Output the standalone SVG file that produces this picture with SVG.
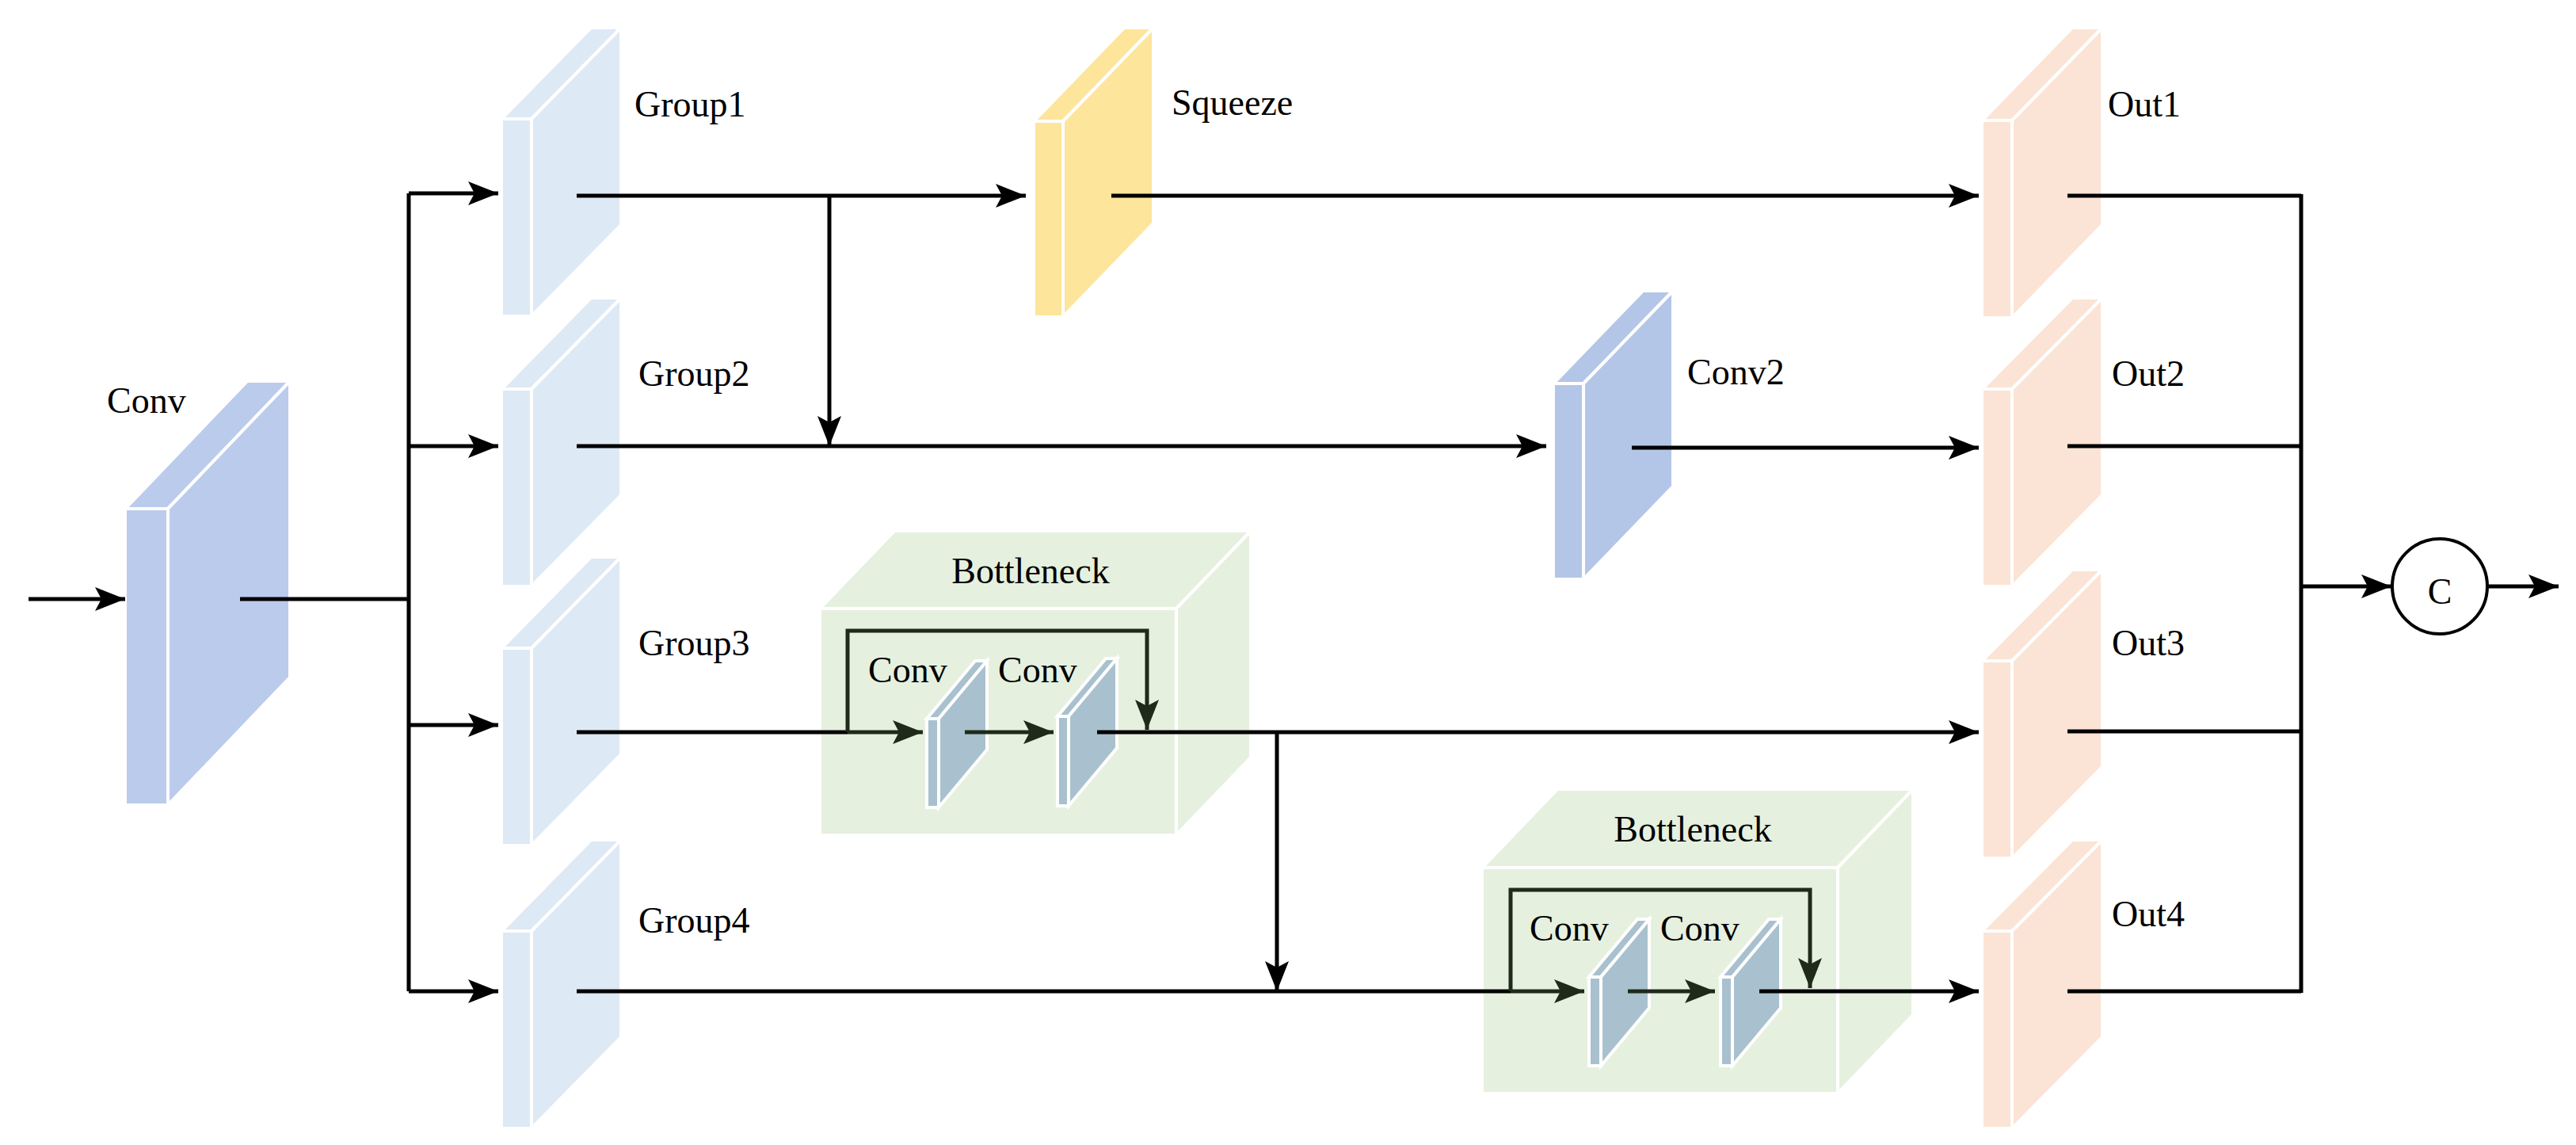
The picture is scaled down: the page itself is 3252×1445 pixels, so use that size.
<svg xmlns="http://www.w3.org/2000/svg" width="3252" height="1445" viewBox="0 0 3252 1445">
<style>
.f{stroke:#fff;stroke-width:4;stroke-linejoin:miter}
.t{font-family:"Liberation Serif","Times New Roman",serif;font-size:46px;fill:#000}
.l{stroke:#000;stroke-width:5;fill:none}
.g{stroke:#1e2a1a;stroke-width:5;fill:none}
</style>
<defs>
<marker id="a" markerUnits="userSpaceOnUse" markerWidth="40" markerHeight="30" refX="38" refY="15" orient="auto"><path d="M0,0 L38,15 L0,30 L8,15 z" fill="#000"/></marker>
<marker id="ag" markerUnits="userSpaceOnUse" markerWidth="40" markerHeight="30" refX="38" refY="15" orient="auto"><path d="M0,0 L38,15 L0,30 L8,15 z" fill="#1e2a1a"/></marker>
</defs>
<rect width="3252" height="1445" fill="#fff"/>

<g id="conv" fill="#bbcbec">
<polygon class="f" points="158,642 212,642 366,481 312,481"/>
<polygon class="f" points="212,642 366,481 366,855 212,1016"/>
<rect class="f" x="158" y="642" width="54" height="374"/>
<text class="t" x="135" y="521">Conv</text>
</g>

<g id="group1" fill="#dde9f5">
<polygon class="f" points="633,150 671,150 784,35 746,35"/>
<polygon class="f" points="671,150 784,35 784,284 671,399"/>
<rect class="f" x="633" y="150" width="38" height="249"/>
<text class="t" x="801" y="147">Group1</text>
</g>
<g id="group2" fill="#dde9f5">
<polygon class="f" points="633,491 671,491 784,376 746,376"/>
<polygon class="f" points="671,491 784,376 784,625 671,740"/>
<rect class="f" x="633" y="491" width="38" height="249"/>
<text class="t" x="806" y="487">Group2</text>
</g>
<g id="group3" fill="#dde9f5">
<polygon class="f" points="633,818 671,818 784,703 746,703"/>
<polygon class="f" points="671,818 784,703 784,952 671,1067"/>
<rect class="f" x="633" y="818" width="38" height="249"/>
<text class="t" x="806" y="827">Group3</text>
</g>
<g id="group4" fill="#dde9f5">
<polygon class="f" points="633,1175 671,1175 784,1060 746,1060"/>
<polygon class="f" points="671,1175 784,1060 784,1309 671,1424"/>
<rect class="f" x="633" y="1175" width="38" height="249"/>
<text class="t" x="806" y="1177">Group4</text>
</g>

<g id="squeeze" fill="#fde59b">
<polygon class="f" points="1305,153 1342,153 1456,35 1419,35"/>
<polygon class="f" points="1342,153 1456,35 1456,282 1342,400"/>
<rect class="f" x="1305" y="153" width="37" height="247"/>
<text class="t" x="1479" y="145">Squeeze</text>
</g>

<g id="conv2" fill="#b4c6e7">
<polygon class="f" points="1961,484 1999,484 2112,367 2074,367"/>
<polygon class="f" points="1999,484 2112,367 2112,614 1999,731"/>
<rect class="f" x="1961" y="484" width="38" height="247"/>
<text class="t" x="2130" y="485">Conv2</text>
</g>

<g id="bottleneck1">
<g fill="#e6f0df">
<polygon class="f" points="1035,768 1485,768 1579,670 1129,670"/>
<polygon class="f" points="1485,768 1579,670 1579,956 1485,1054"/>
<rect class="f" x="1035" y="768" width="450" height="286"/>
</g>
<text class="t" x="1301" y="736" text-anchor="middle">Bottleneck</text>
<g fill="#a9c1ce">
<polygon class="f" points="1170,907 1185,907 1246,834 1231,834"/>
<polygon class="f" points="1185,907 1246,834 1246,946 1185,1019"/>
<rect class="f" x="1170" y="907" width="15" height="112"/>
<polygon class="f" points="1335,904 1349,904 1410,831 1396,831"/>
<polygon class="f" points="1349,904 1410,831 1410,944 1349,1017"/>
<rect class="f" x="1335" y="904" width="14" height="113"/>
</g>
<text class="t" x="1096" y="861">Conv</text>
<text class="t" x="1260" y="861">Conv</text>
</g>

<g id="bottleneck2">
<g fill="#e6f0df">
<polygon class="f" points="1871,1095 2320,1095 2415,996 1966,996"/>
<polygon class="f" points="2320,1095 2415,996 2415,1281 2320,1380"/>
<rect class="f" x="1871" y="1095" width="449" height="285"/>
</g>
<text class="t" x="2137" y="1062" text-anchor="middle">Bottleneck</text>
<g fill="#a9c1ce">
<polygon class="f" points="2006,1233 2021,1233 2082,1160 2067,1160"/>
<polygon class="f" points="2021,1233 2082,1160 2082,1272 2021,1345"/>
<rect class="f" x="2006" y="1233" width="15" height="112"/>
<polygon class="f" points="2172,1233 2187,1233 2248,1160 2233,1160"/>
<polygon class="f" points="2187,1233 2248,1160 2248,1272 2187,1345"/>
<rect class="f" x="2172" y="1233" width="15" height="112"/>
</g>
<text class="t" x="1931" y="1187">Conv</text>
<text class="t" x="2096" y="1187">Conv</text>
</g>

<g id="out1" fill="#fbe4d5">
<polygon class="f" points="2502,152 2540,152 2654,35 2616,35"/>
<polygon class="f" points="2540,152 2654,35 2654,284 2540,401"/>
<rect class="f" x="2502" y="152" width="38" height="249"/>
<text class="t" x="2661" y="147">Out1</text>
</g>
<g id="out2" fill="#fbe4d5">
<polygon class="f" points="2502,491 2540,491 2654,376 2616,376"/>
<polygon class="f" points="2540,491 2654,376 2654,625 2540,740"/>
<rect class="f" x="2502" y="491" width="38" height="249"/>
<text class="t" x="2666" y="487">Out2</text>
</g>
<g id="out3" fill="#fbe4d5">
<polygon class="f" points="2502,834 2540,834 2654,719 2616,719"/>
<polygon class="f" points="2540,834 2654,719 2654,968 2540,1083"/>
<rect class="f" x="2502" y="834" width="38" height="249"/>
<text class="t" x="2666" y="827">Out3</text>
</g>
<g id="out4" fill="#fbe4d5">
<polygon class="f" points="2502,1175 2540,1175 2654,1060 2616,1060"/>
<polygon class="f" points="2540,1175 2654,1060 2654,1309 2540,1424"/>
<rect class="f" x="2502" y="1175" width="38" height="249"/>
<text class="t" x="2666" y="1169">Out4</text>
</g>

<g id="concat">
<circle cx="3080" cy="740" r="60" fill="#fff" stroke="#000" stroke-width="4"/>
<text class="t" x="3080" y="762" text-anchor="middle" font-size="62">C</text>
</g>

<g id="connectors">
<line class="l" x1="36" y1="756" x2="158" y2="756" marker-end="url(#a)"/>
<path class="l" d="M303,756 H516"/>
<path class="l" d="M516,244 V1251"/>
<line class="l" x1="516" y1="244" x2="629" y2="244" marker-end="url(#a)"/>
<line class="l" x1="516" y1="563" x2="629" y2="563" marker-end="url(#a)"/>
<line class="l" x1="516" y1="915" x2="629" y2="915" marker-end="url(#a)"/>
<line class="l" x1="516" y1="1251" x2="629" y2="1251" marker-end="url(#a)"/>
<line class="l" x1="728" y1="247" x2="1295" y2="247" marker-end="url(#a)"/>
<line class="l" x1="1047" y1="247" x2="1047" y2="563" marker-end="url(#a)"/>
<line class="l" x1="728" y1="563" x2="1952" y2="563" marker-end="url(#a)"/>
<line class="l" x1="1403" y1="247" x2="2498" y2="247" marker-end="url(#a)"/>
<line class="l" x1="2060" y1="565" x2="2498" y2="565" marker-end="url(#a)"/>
<path class="l" d="M728,924 H1070"/>
<line class="g" x1="1070" y1="924" x2="1165" y2="924" marker-end="url(#ag)"/>
<line class="g" x1="1218" y1="924" x2="1330" y2="924" marker-end="url(#ag)"/>
<path class="g" d="M1070,924 V796 H1448 V921" marker-end="url(#ag)"/>
<line class="l" x1="1385" y1="924" x2="2498" y2="924" marker-end="url(#a)"/>
<line class="l" x1="1612" y1="924" x2="1612" y2="1251" marker-end="url(#a)"/>
<path class="l" d="M728,1251 H1907"/>
<line class="g" x1="1907" y1="1251" x2="2000" y2="1251" marker-end="url(#ag)"/>
<line class="g" x1="2055" y1="1251" x2="2165" y2="1251" marker-end="url(#ag)"/>
<path class="g" d="M1907,1251 V1123 H2285 V1247" marker-end="url(#ag)"/>
<line class="l" x1="2221" y1="1251" x2="2498" y2="1251" marker-end="url(#a)"/>
<path class="l" d="M2610,247 H2905 M2610,563 H2905 M2610,923 H2905 M2610,1251 H2905 M2905,245 V1253"/>
<line class="l" x1="2905" y1="740" x2="3019" y2="740" marker-end="url(#a)"/>
<line class="l" x1="3140" y1="740" x2="3230" y2="740" marker-end="url(#a)"/>
</g>
</svg>
